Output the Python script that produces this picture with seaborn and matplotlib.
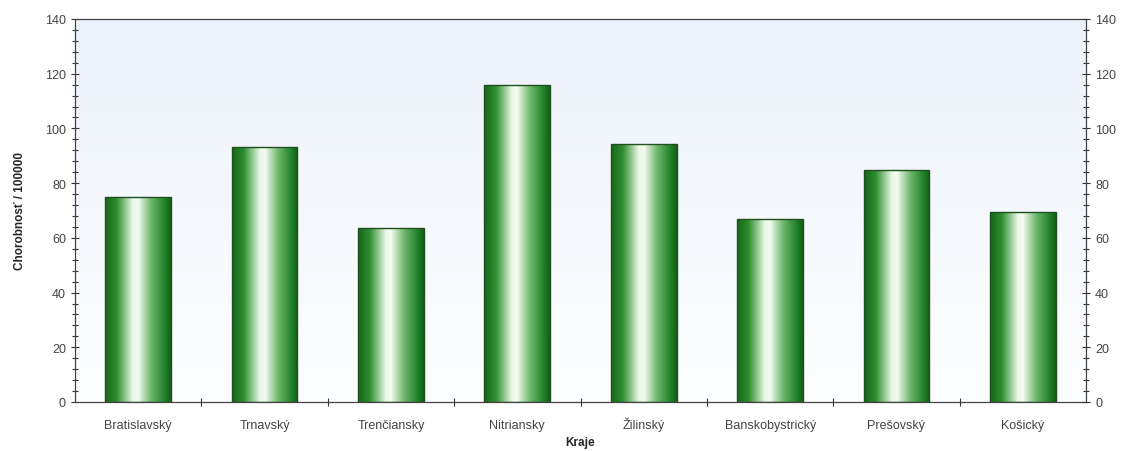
import numpy as np
import pandas as pd
import seaborn as sns
import matplotlib.pyplot as plt
from matplotlib.colors import LinearSegmentedColormap
from matplotlib.ticker import MultipleLocator, FixedLocator

kraje = ["Bratislavský", "Trnavský", "Trenčiansky", "Nitriansky",
         "Žilinský", "Banskobystrický", "Prešovský", "Košický"]
chorobnost = [75.0, 93.3, 63.6, 116.0, 94.4, 66.8, 84.8, 69.4]

df = pd.DataFrame({"Kraje": kraje, "Chorobnost": chorobnost})

sns.set_style("white")
plt.rcParams['font.family'] = ['Liberation Sans', 'DejaVu Sans']

fig = plt.figure(figsize=(11.34, 4.52), dpi=100)
ax = fig.add_axes([75 / 1134, 1 - 403 / 452, (1086 - 75) / 1134, (403 - 20) / 452])

sns.barplot(data=df, x="Kraje", y="Chorobnost", ax=ax, width=0.52,
            color="#2e8b2e", edgecolor="#1f4f1f", linewidth=1.0, zorder=2)

ax.set_xlim(-0.5, len(kraje) - 0.5)
ax.set_ylim(0, 140)

# background gradient (light blue on top, fading to white)
bg = LinearSegmentedColormap.from_list("bg", ["#fdfeff", "#edf3fc"])
ax.imshow(np.linspace(0, 1, 256).reshape(-1, 1), cmap=bg, aspect="auto",
          extent=(-0.5, len(kraje) - 0.5, 0, 140), origin="lower", zorder=0)

# cylinder-like gradient on each bar
bar_cmap = LinearSegmentedColormap.from_list(
    "bar", [(0.0, "#17661a"), (0.18, "#2f8f30"), (0.42, "#e9f7e6"),
            (0.5, "#f4fbf2"), (0.7, "#6fb86d"), (0.9, "#22832a"), (1.0, "#126015")])
grad = np.linspace(0, 1, 256).reshape(1, -1)
for p in ax.patches:
    x0, w, h = p.get_x(), p.get_width(), p.get_height()
    im = ax.imshow(grad, cmap=bar_cmap, aspect="auto",
                   extent=(x0, x0 + w, 0, h), zorder=2.5)
    im.set_clip_path(p)
    p.set_facecolor("none")
    p.set_zorder(3)

ax.set_xlim(-0.5, len(kraje) - 0.5)
ax.set_ylim(0, 140)

# right axis mirrors left
ax2 = ax.twinx()
ax2.set_ylim(0, 140)

for a in (ax, ax2):
    a.yaxis.set_major_locator(MultipleLocator(20))
    a.yaxis.set_minor_locator(MultipleLocator(4))
    a.tick_params(axis="y", which="major", direction="inout", length=6,
                  width=0.8, color="#333333", labelsize=9, labelcolor="#444444")
    a.tick_params(axis="y", which="minor", direction="inout", length=4,
                  width=0.8, color="#333333")
    for s in a.spines.values():
        s.set_visible(False)

ax.spines["left"].set_visible(True)
ax.spines["bottom"].set_visible(True)
ax.spines["top"].set_visible(True)
ax2.spines["right"].set_visible(True)
for s in ("left", "bottom", "top"):
    ax.spines[s].set_color("#444444")
    ax.spines[s].set_linewidth(0.9)
ax2.spines["right"].set_color("#444444")
ax2.spines["right"].set_linewidth(0.9)

ax.xaxis.set_minor_locator(FixedLocator(np.arange(0.5, len(kraje) - 0.5, 1)))
ax.tick_params(axis="x", which="major", length=0, labelsize=9,
               labelcolor="#444444", pad=19)
ax.tick_params(axis="x", which="minor", direction="inout", length=6,
               width=0.8, color="#333333", bottom=True)
for lbl in ax.get_xticklabels():
    lbl.set_verticalalignment("baseline")

ax.set_xlabel("Kraje", fontsize=8.5, fontweight="bold")
ax.xaxis.set_label_coords(0.5, -0.09)
ax.set_ylabel("Chorobnosť / 100000", fontsize=8.5, fontweight="bold", labelpad=14)
ax2.set_ylabel("")

fig.savefig("out.png", dpi=100, facecolor="white")
